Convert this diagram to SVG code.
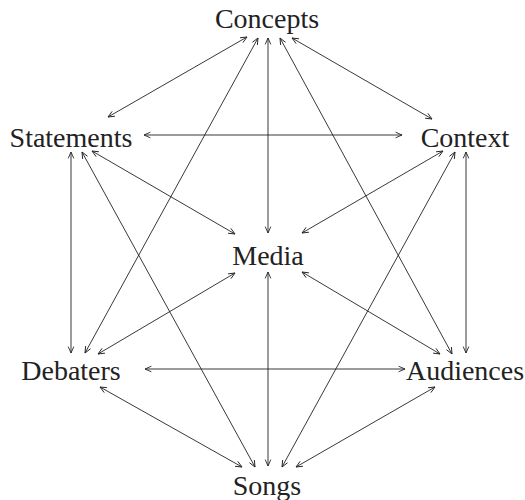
<svg xmlns="http://www.w3.org/2000/svg" width="525" height="500" viewBox="0 0 525 500">
<style>
.lbl{font-family:"Liberation Serif","Times New Roman",serif;font-size:28px;fill:#222;text-anchor:middle}
.e{stroke:#222;stroke-width:0.9;fill:none;marker-start:url(#ah);marker-end:url(#ah)}
</style>
<defs>
<marker id="ah" viewBox="0 0 10 10" refX="9" refY="5" markerWidth="8" markerHeight="8" markerUnits="userSpaceOnUse" orient="auto-start-reverse">
<path d="M1,1.5 L9,5 L1,8.5" fill="none" stroke="#222" stroke-width="1.1"/>
</marker>
</defs>
<rect width="525" height="500" fill="#fff"/>
<g id="connectors">
<line class="e" x1="247" y1="37" x2="108" y2="117"/>
<line class="e" x1="292" y1="38" x2="432" y2="119"/>
<line class="e" x1="268" y1="38" x2="268" y2="233"/>
<line class="e" x1="258" y1="38" x2="85" y2="353"/>
<line class="e" x1="280" y1="38" x2="452" y2="354"/>
<line class="e" x1="144" y1="135" x2="402" y2="135"/>
<line class="e" x1="92" y1="151" x2="235" y2="234"/>
<line class="e" x1="71" y1="152" x2="71" y2="353"/>
<line class="e" x1="82" y1="152" x2="255" y2="467"/>
<line class="e" x1="443" y1="151" x2="302" y2="233"/>
<line class="e" x1="466" y1="152" x2="466" y2="353"/>
<line class="e" x1="455" y1="152" x2="282" y2="467"/>
<line class="e" x1="235" y1="273" x2="98" y2="354"/>
<line class="e" x1="302" y1="272" x2="440" y2="354"/>
<line class="e" x1="268" y1="272" x2="268" y2="466"/>
<line class="e" x1="145" y1="369" x2="405" y2="369"/>
<line class="e" x1="100" y1="387" x2="242" y2="467"/>
<line class="e" x1="435" y1="387" x2="296" y2="467"/>
</g>
<g id="concepts"><text class="lbl" x="267" y="28">Concepts</text></g>
<g id="statements"><text class="lbl" x="71" y="147">Statements</text></g>
<g id="context"><text class="lbl" x="465" y="147">Context</text></g>
<g id="media"><text class="lbl" x="268" y="265">Media</text></g>
<g id="debaters"><text class="lbl" x="71" y="380">Debaters</text></g>
<g id="audiences"><text class="lbl" x="465" y="380">Audiences</text></g>
<g id="songs"><text class="lbl" x="267" y="495">Songs</text></g>
</svg>
